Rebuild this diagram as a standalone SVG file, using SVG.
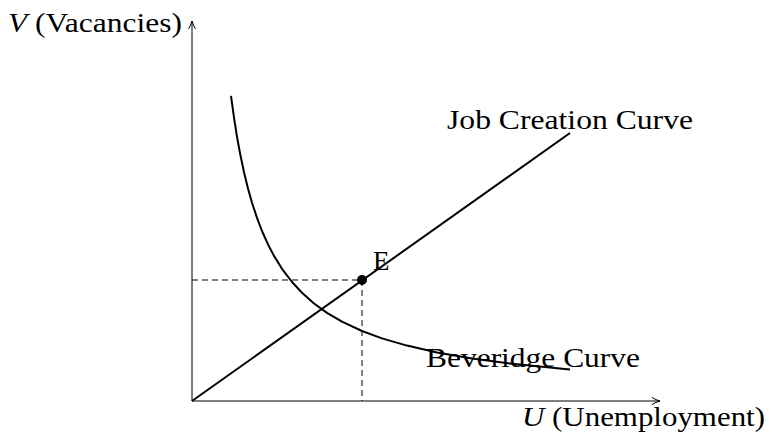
<svg xmlns="http://www.w3.org/2000/svg" width="773" height="440" viewBox="0 0 773 440">
<style>
.t{font-family:"Liberation Serif","DejaVu Serif",serif;font-size:27px;fill:#000}
.ax{stroke:#000;stroke-width:1;fill:none}
.cv{stroke:#000;stroke-width:2;fill:none;stroke-linejoin:round}
.ds{stroke:#000;stroke-width:1;stroke-dasharray:6 4;fill:none}
</style>
<defs>
<marker id="ar" viewBox="0 0 10 10" refX="9" refY="5" markerWidth="10" markerHeight="10" markerUnits="userSpaceOnUse" orient="auto">
<path d="M1,1.5 Q5,4 9,5 Q5,6 1,8.5" stroke="#000" stroke-width="1" fill="none"/>
</marker>
</defs>
<g id="connectors">
<line id="x-axis" class="ax" x1="192" y1="401" x2="660" y2="401" marker-end="url(#ar)"/>
<line id="y-axis" class="ax" x1="192" y1="401" x2="192" y2="21" marker-end="url(#ar)"/>
<path id="dash-h" class="ds" d="M192,280 H362"/>
<path id="dash-v" class="ds" d="M362,280 V401"/>
<line id="job-creation" class="cv" x1="192" y1="401" x2="570" y2="133"/>
<polyline id="beveridge" class="cv" points="231,95.9 234,117.7 237,136.6 240,153.1 244,172.2 248,188.5 252,202.7 257,217.9 262,231 268,244.4 274,255.9 282,268.8 292,282 302,292.8 314,303.5 327,312.9 342,321.7 362,331 382,338.4 407,345.6 437,352.4 472,358.5 512,363.8 570,369.5"/>
</g>
<g id="node-E">
<circle cx="362" cy="280" r="5" fill="#000"/>
<text class="t" x="373" y="270">E</text>
</g>
<g id="label-V">
<text class="t" x="8" y="32" textLength="174" lengthAdjust="spacingAndGlyphs"><tspan font-style="italic">V</tspan> (Vacancies)</text>
</g>
<g id="label-U">
<text class="t" x="522" y="426" textLength="243" lengthAdjust="spacingAndGlyphs"><tspan font-style="italic">U</tspan> (Unemployment)</text>
</g>
<g id="label-job">
<text class="t" x="447" y="129" textLength="246" lengthAdjust="spacingAndGlyphs">Job Creation Curve</text>
</g>
<g id="label-beveridge">
<text class="t" x="426" y="367" textLength="214" lengthAdjust="spacingAndGlyphs">Beveridge Curve</text>
</g>
</svg>
